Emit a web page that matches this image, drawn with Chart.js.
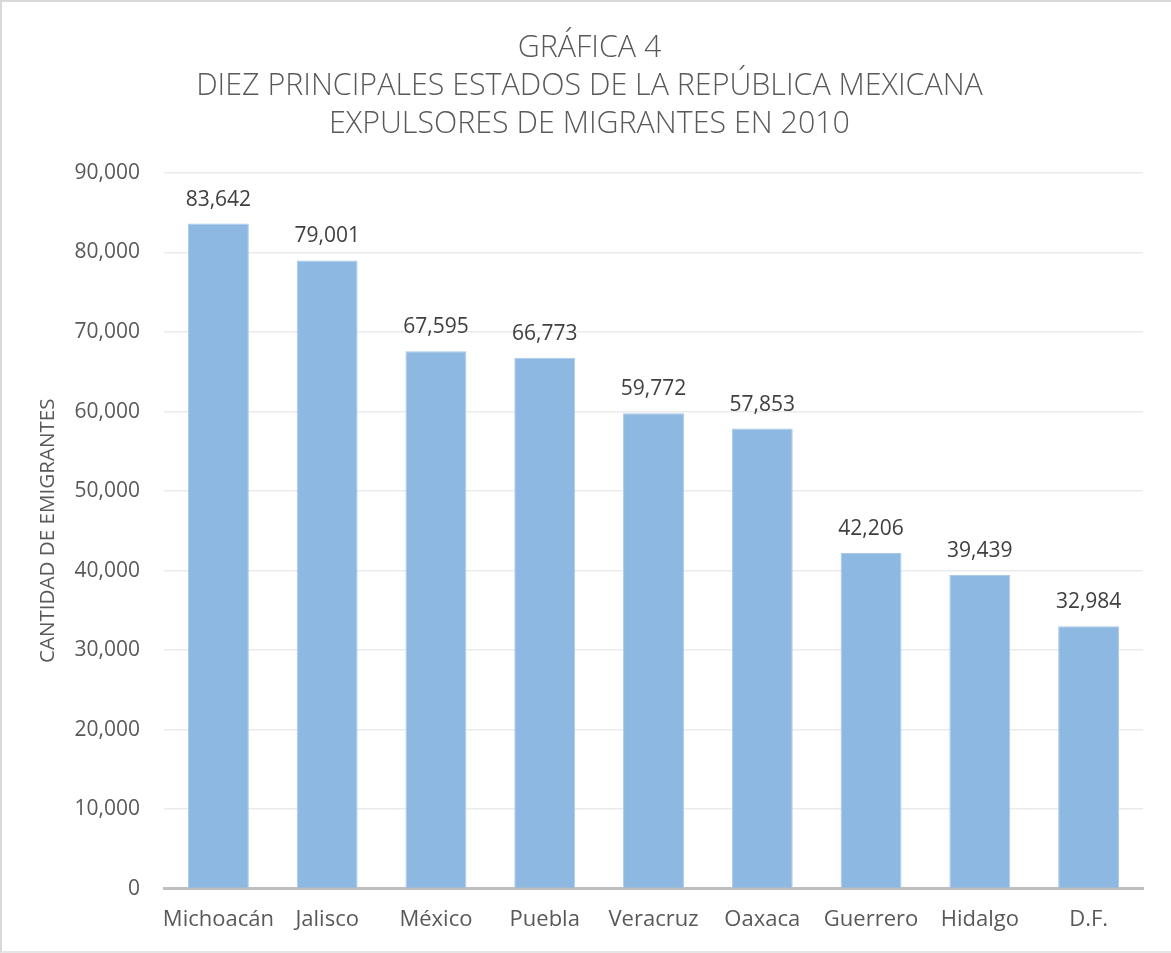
<!DOCTYPE html>
<html>
<head>
<meta charset="utf-8">
<script src="https://cdn.jsdelivr.net/npm/chart.js@4"></script>
<style>
  html, body { margin: 0; padding: 0; background: #fff; }
  #frame {
    position: absolute; left: 0; top: 0; width: 1171px; height: 953px;
    box-sizing: border-box;
    border-left: 2px solid #d9d9d9; border-top: 2px solid #d9d9d9; border-bottom: 2px solid #e6e6e6;
  }
  canvas { display: block; }
</style>
</head>
<body>
<div id="frame"><canvas id="chart" width="1169" height="949"></canvas></div>
<script>
// Estados y cantidad de emigrantes (2010)
const estados = ['Michoacán', 'Jalisco', 'México', 'Puebla', 'Veracruz', 'Oaxaca', 'Guerrero', 'Hidalgo', 'D.F.'];
const emigrantes = [83642, 79001, 67595, 66773, 59772, 57853, 42206, 39439, 32984];
const tituloLineas = ['GRÁFICA 4', 'DIEZ PRINCIPALES ESTADOS DE LA REPÚBLICA MEXICANA', 'EXPULSORES DE MIGRANTES EN 2010'];
const ejeY = { min: 0, max: 90000, paso: 10000 };

const fmt = new Intl.NumberFormat('en-US');

// etiquetas de valor encima de cada barra
const etiquetasBarras = {
  id: 'etiquetasBarras',
  afterDatasetsDraw(chart) {
    const ctx = chart.ctx;
    const meta = chart.getDatasetMeta(0);
    ctx.save();
    ctx.font = '21px "Open Sans"';
    ctx.fillStyle = '#404040';
    ctx.textAlign = 'center';
    ctx.textBaseline = 'middle';
    meta.data.forEach((bar, i) => {
      ctx.fillText(fmt.format(emigrantes[i]), bar.x, bar.y - 24);
    });
    ctx.restore();
  }
};

new Chart(document.getElementById('chart').getContext('2d'), {
  type: 'bar',
  data: {
    labels: estados,
    datasets: [{
      data: emigrantes,
      backgroundColor: '#8cb8e1',
      borderColor: '#a9cbeb',
      borderWidth: 1,
      categoryPercentage: 1,
      barPercentage: 0.56
    }]
  },
  options: {
    responsive: false,
    animation: false,
    layout: { padding: { left: 34, right: 28, top: 27, bottom: 0 } },
    plugins: {
      legend: { display: false },
      tooltip: { enabled: false },
      title: {
        display: true,
        text: tituloLineas,
        color: '#595959',
        font: { family: 'Open Sans', size: 30.4, weight: '300', lineHeight: 1.25 },
        padding: { top: 0, bottom: 30 }
      }
    },
    scales: {
      x: {
        grid: { display: false, drawTicks: false },
        border: { color: '#bfbfbf', width: 3 },
        ticks: {
          color: '#595959',
          font: { family: 'Open Sans', size: 22 },
          padding: 18,
          maxRotation: 0,
          minRotation: 0,
          autoSkip: false
        }
      },
      y: {
        min: ejeY.min,
        max: ejeY.max,
        afterFit(scale) { scale.width = 128; },
        grid: { color: '#ebebeb', lineWidth: 1.5, drawTicks: false },
        border: { display: false },
        ticks: {
          stepSize: ejeY.paso,
          color: '#595959',
          font: { family: 'Open Sans', size: 21 },
          padding: 24,
          callback: v => fmt.format(v)
        },
        title: {
          display: true,
          text: 'CANTIDAD DE EMIGRANTES',
          color: '#595959',
          font: { family: 'Open Sans', size: 20.6 },
          padding: { top: 0, bottom: 12 }
        }
      }
    }
  },
  plugins: [etiquetasBarras]
});
</script>
</body>
</html>
